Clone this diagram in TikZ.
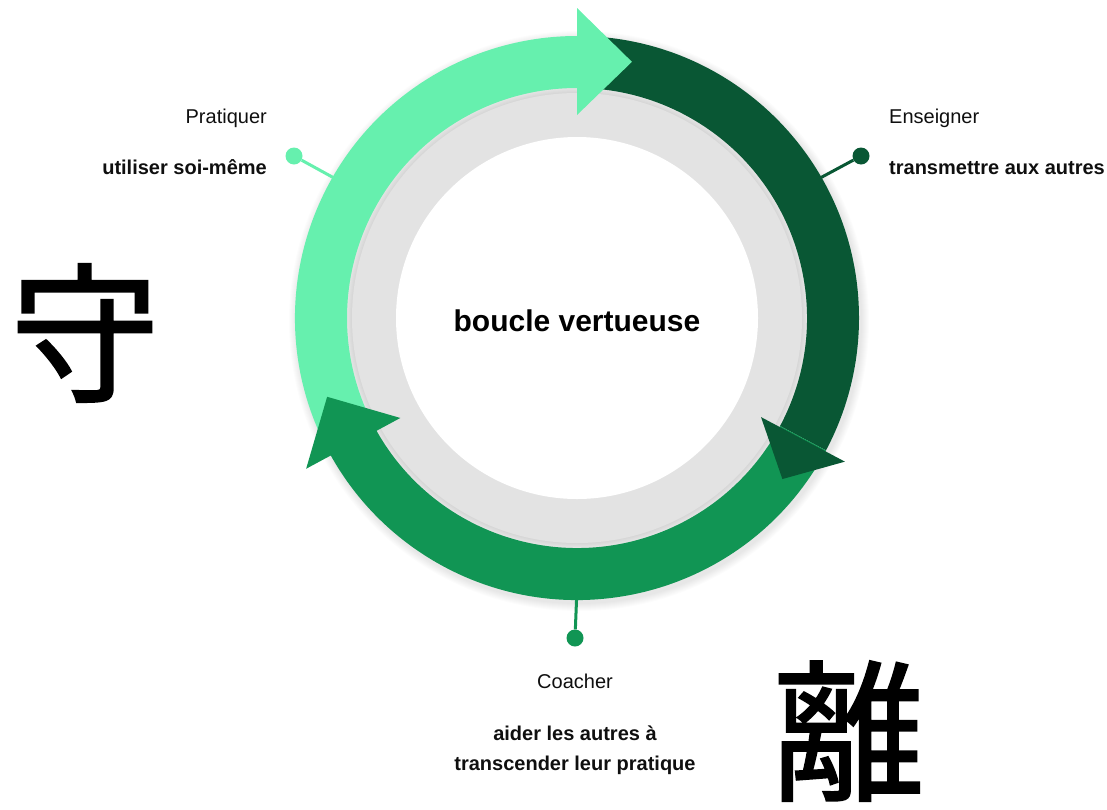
\documentclass[tikz,border=0pt]{standalone}
\usepackage{fontspec}
\setmainfont{Liberation Sans}
\newfontfamily\cjkfont{Noto Sans CJK JP}[RawFeature={embolden=1.3}]
\usetikzlibrary{calc}
\definecolor{lgreen}{RGB}{102,240,174}
\definecolor{dgreen}{RGB}{9,87,52}
\definecolor{mgreen}{RGB}{17,149,84}
\definecolor{ringgray}{RGB}{227,227,227}
\definecolor{txt}{RGB}{15,15,15}
\begin{document}
\begin{tikzpicture}[x=1pt,y=1pt,
  dotnode/.style={circle, inner sep=0pt, minimum size=17pt},
  conn/.style={line width=3pt},
  lbl/.style={font=\fontsize{20}{24}\selectfont, text=txt, inner sep=0pt},
  blbl/.style={font=\bfseries\fontsize{20}{24}\selectfont, text=txt, inner sep=0pt},
  kanji/.style={text=black, inner sep=0pt}]
\useasboundingbox (0,0) rectangle (1107,-809);
\coordinate (c) at (577,-318);

% shadow
\foreach \i in {1,...,8}
  \fill[black, opacity=0.013] ($(c)+(2,-3)$) circle[radius={282pt+\i pt}];

% gray ring
\fill[ringgray] (c) circle[radius=232pt];
\foreach \i in {1,...,4}
  \fill[black, opacity=0.012] (c) circle[radius={230pt-\i pt}];
\fill[ringgray] (c) circle[radius=225pt];
\fill[white] (c) circle[radius=181pt];

% connectors
\node[dotnode, fill=lgreen] (dp) at (294,-156) {};
\coordinate (rp) at ($(c)+(150:270pt)$);
\draw[conn, lgreen] (dp) -- (rp);
\node[dotnode, fill=dgreen] (de) at (861,-156) {};
\coordinate (re) at ($(c)+(30:270pt)$);
\draw[conn, dgreen] (de) -- (re);
\node[dotnode, fill=mgreen] (dc) at (575,-638) {};
\coordinate (rc) at ($(c)+(-90:270pt)$);
\draw[conn, mgreen] (dc) -- (rc);

% arrow bodies
\fill[lgreen] ($(c)+(209:282pt)$) arc[start angle=209,end angle=90,radius=282pt]
  -- ($(c)+(90:230pt)$) arc[start angle=90,end angle=209,radius=230pt] -- cycle;
\fill[dgreen] ($(c)+(90:282pt)$) arc[start angle=90,end angle=-28,radius=282pt]
  -- ($(c)+(-28:230pt)$) arc[start angle=-28,end angle=90,radius=230pt] -- cycle;
\fill[mgreen] ($(c)+(-28:282pt)$) arc[start angle=-28,end angle=-151,radius=282pt]
  -- ($(c)+(-151:230pt)$) arc[start angle=-151,end angle=-28,radius=230pt] -- cycle;

% arrow heads
\fill[lgreen] ($(c)+(90:203pt)$) -- ($(c)+(90:310pt)$) -- ($(c)+(77.9:262pt)$) -- cycle;
\fill[dgreen] ($(c)+(-28.3:209pt)$) -- ($(c)+(-28.2:304pt)$) -- ($(c)+(-38.1:261pt)$) -- cycle;
\fill[mgreen] ($(c)+(-150.5:203pt)$) -- ($(c)+(-150.9:310pt)$) -- ($(c)+(-162.5:262pt)$) -- cycle;

% center text
\node[font=\bfseries\fontsize{30}{36}\selectfont, text=black, inner sep=0pt] (title) at (577,-321) {boucle vertueuse};

% labels
\node[lbl, anchor=base east] (prat) at (267,-123) {Pratiquer};
\node[blbl, anchor=base east] (pratd) at (267,-174) {utiliser soi-même};
\node[lbl, anchor=base west] (ens) at (889,-123) {Enseigner};
\node[blbl, anchor=base west] (ensd) at (889,-174) {transmettre aux autres};
\node[lbl, anchor=base] (coa) at (575,-688) {Coacher};
\node[blbl, anchor=base] (coad1) at (575,-740) {aider les autres à};
\node[blbl, anchor=base] (coad2) at (575,-770) {transcender leur pratique};

% kanji
\node[kanji, font=\cjkfont\fontsize{150}{150}\selectfont] (shu) at (85,-333) {守};
\node[kanji, font=\cjkfont\fontsize{152}{152}\selectfont] (ri) at (849,-731) {離};
\end{tikzpicture}
\end{document}
